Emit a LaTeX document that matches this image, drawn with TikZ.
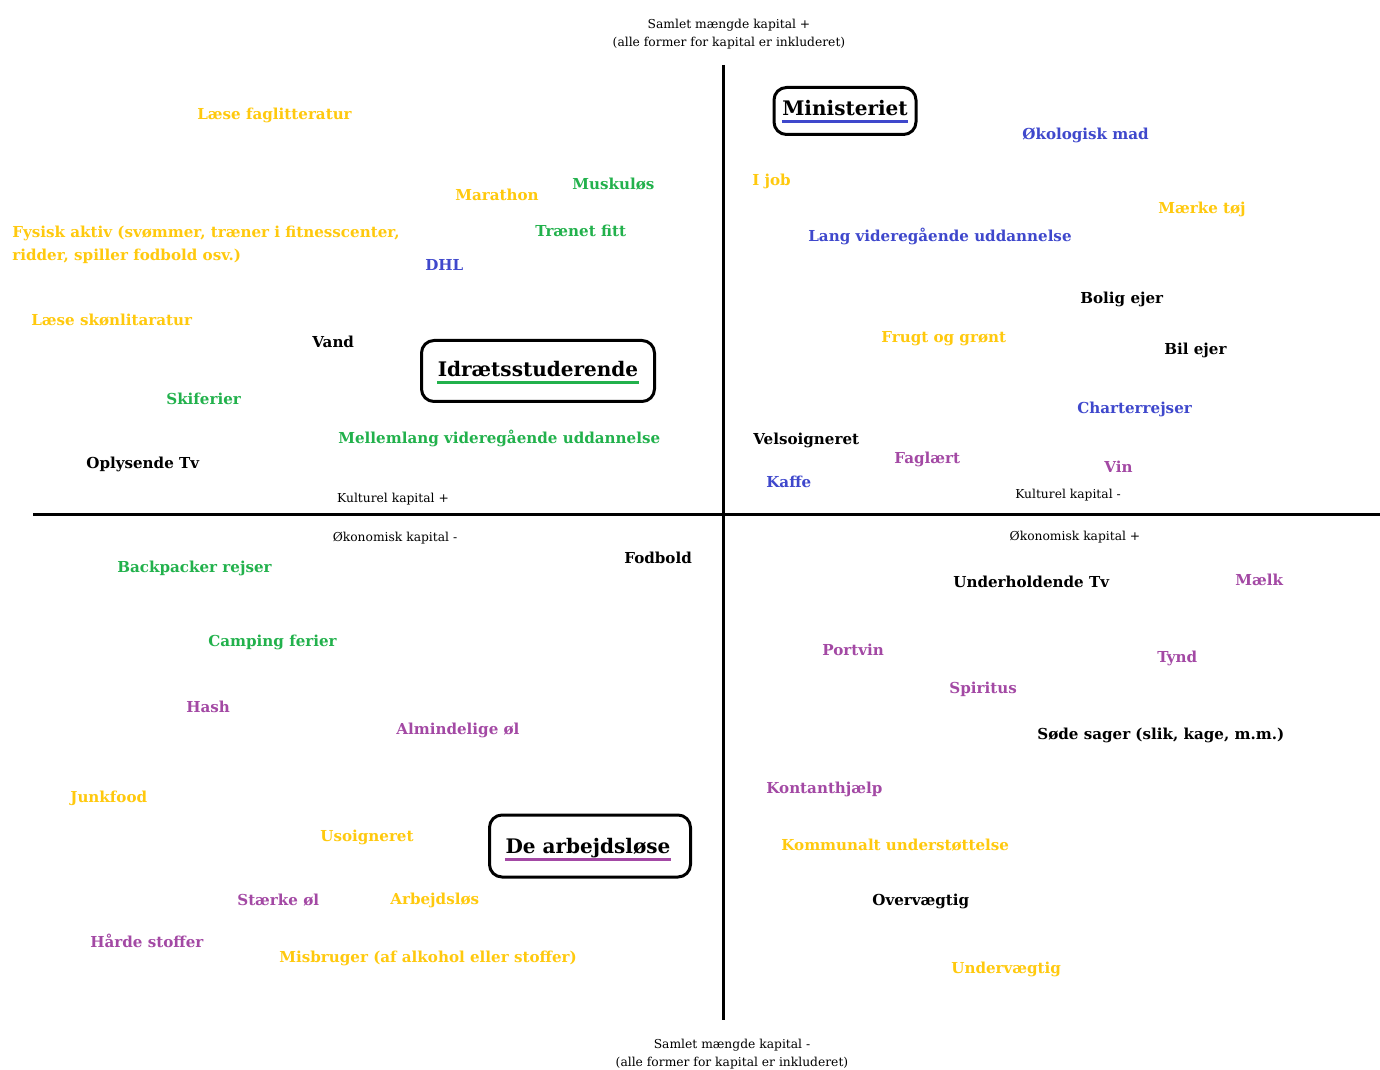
\documentclass[tikz,border=0pt]{standalone}
\usepackage{fontspec}
\setmainfont{DejaVu Serif}
\definecolor{sun}{RGB}{255,201,14}
\definecolor{grass}{RGB}{34,177,76}
\definecolor{sea}{RGB}{63,72,204}
\definecolor{plum}{RGB}{163,73,164}
\tikzset{
  lbl/.style={anchor=base west,yshift=-1mm,inner sep=0pt,text=#1,
    font=\fontsize{8.6}{13}\selectfont\bfseries},
  lbl/.default=black,
  axis lbl/.style={inner sep=0pt,font=\fontsize{7}{10.4}\selectfont,align=center},
  axis/.style={line width=0.6mm},
  group box/.style={draw,line width=0.6mm,rounded corners=2.5mm,inner sep=0pt},
  group/.style={anchor=base,inner sep=0pt,font=\fontsize{11.4}{13}\selectfont\bfseries},
  uline/.style={line width=0.6mm,draw=#1},
}

\begin{document}
\begin{tikzpicture}[x=0.2mm,y=-0.2mm]
    \useasboundingbox (0,0) rectangle (1380,1070);
    % axes
    \draw[axis] (723,65) -- (723,1020);
    \draw[axis] (33,515) -- (1380,515);
    \node[axis lbl] (top) at (729,34) {Samlet mængde kapital +\\(alle former for kapital er inkluderet)};
    \node[axis lbl] (bot) at (732,1054) {Samlet mængde kapital -\\(alle former for kapital er inkluderet)};
    \node[axis lbl] (kp) at (393,499) {Kulturel kapital +};
    \node[axis lbl] (om) at (395,538) {Økonomisk kapital -};
    \node[axis lbl] (km) at (1068,495) {Kulturel kapital -};
    \node[axis lbl] (op) at (1075,537) {Økonomisk kapital +};

    % groups
    \node[group box,minimum width=28.4mm,minimum height=9.4mm] (minbox) at (845,111) {};
    \node[group] (min) at (845,116) {Ministeriet};
    \draw[uline=sea] ([yshift=-1.2mm]min.base west) -- ([yshift=-1.2mm]min.base east);
    \node[group box,minimum width=46.6mm,minimum height=12.2mm] (idrbox) at (538,371) {};
    \node[group] (idr) at (538,377) {Idrætsstuderende};
    \draw[uline=grass] ([yshift=-1.2mm]idr.base west) -- ([yshift=-1.2mm]idr.base east);
    \node[group box,minimum width=40.2mm,minimum height=12.4mm] (arbbox) at (590,846) {};
    \node[group] (arb) at (588,853) {De arbejdsløse};
    \draw[uline=plum] ([yshift=-1.2mm]arb.base west) -- ([yshift=-1.2mm]arb.base east);

    % top left
    \node[lbl=sun] (fag) at (197,115) {Læse faglitteratur};
    \node[lbl=sun] (mar) at (455,196) {Marathon};
    \node[lbl=grass] (mus) at (572,185) {Muskuløs};
    \node[lbl=sun,anchor=west,yshift=0mm,align=left] (fys) at (12,240) {Fysisk aktiv (svømmer, træner i fitnesscenter,\\ridder, spiller fodbold osv.)};
    \node[lbl=grass] (fit) at (535,232) {Trænet fitt};
    \node[lbl=sea] (dhl) at (425,266) {DHL};
    \node[lbl=sun] (sko) at (31,321) {Læse skønlitaratur};
    \node[lbl] (van) at (312,343) {Vand};
    \node[lbl=grass] (ski) at (166,400) {Skiferier};
    \node[lbl=grass] (mel) at (338,439) {Mellemlang videregående uddannelse};
    \node[lbl] (opl) at (86,464) {Oplysende Tv};

    % top right
    \node[lbl=sun] (job) at (752,181) {I job};
    \node[lbl=sea] (oko) at (1022,135) {Økologisk mad};
    \node[lbl=sun] (mtoj) at (1158,209) {Mærke tøj};
    \node[lbl=sea] (lang) at (808,237) {Lang videregående uddannelse};
    \node[lbl] (bol) at (1080,299) {Bolig ejer};
    \node[lbl=sun] (fru) at (881,338) {Frugt og grønt};
    \node[lbl] (bil) at (1164,350) {Bil ejer};
    \node[lbl=sea] (cha) at (1077,409) {Charterrejser};
    \node[lbl] (vel) at (753,440) {Velsoigneret};
    \node[lbl=plum] (fgl) at (894,459) {Faglært};
    \node[lbl=plum] (vin) at (1104,468) {Vin};
    \node[lbl=sea] (kaf) at (766,483) {Kaffe};

    % bottom left
    \node[lbl=grass] (bac) at (117,568) {Backpacker rejser};
    \node[lbl] (fod) at (624,559) {Fodbold};
    \node[lbl=grass] (cam) at (208,641) {Camping ferier};
    \node[lbl=plum] (has) at (186,707) {Hash};
    \node[lbl=plum] (alm) at (396,729) {Almindelige øl};
    \node[lbl=sun] (jun) at (70,797) {Junkfood};
    \node[lbl=sun] (uso) at (320,836) {Usoigneret};
    \node[lbl=plum] (sto) at (237,900) {Stærke øl};
    \node[lbl=sun] (ald) at (390,899) {Arbejdsløs};
    \node[lbl=plum] (har) at (90,942) {Hårde stoffer};
    \node[lbl=sun] (mis) at (279,957) {Misbruger (af alkohol eller stoffer)};

    % bottom right
    \node[lbl] (und) at (953,583) {Underholdende Tv};
    \node[lbl=plum] (mae) at (1235,580) {Mælk};
    \node[lbl=plum] (por) at (822,650) {Portvin};
    \node[lbl=plum] (tyn) at (1157,657) {Tynd};
    \node[lbl=plum] (spi) at (949,688) {Spiritus};
    \node[lbl] (sod) at (1037,734) {Søde sager (slik, kage, m.m.)};
    \node[lbl=plum] (kon) at (766,788) {Kontanthjælp};
    \node[lbl=sun] (kom) at (781,845) {Kommunalt understøttelse};
    \node[lbl] (ove) at (872,900) {Overvægtig};
    \node[lbl=sun] (unv) at (951,968) {Undervægtig};
  \end{tikzpicture}
\end{document}
